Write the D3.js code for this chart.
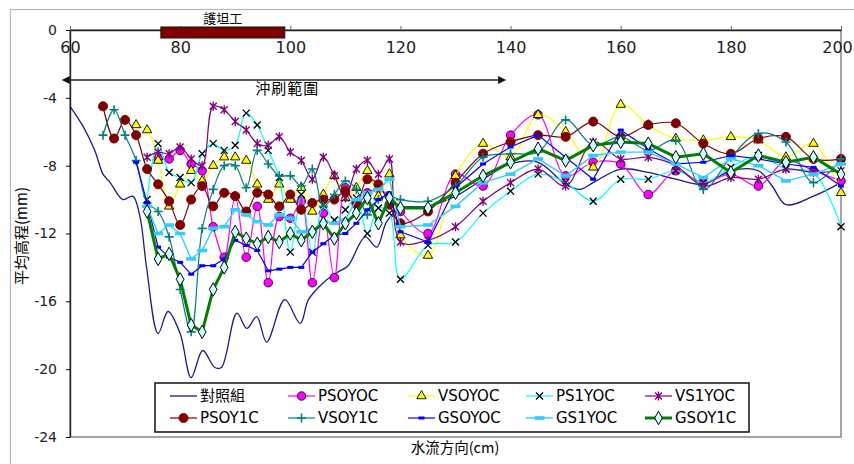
<!DOCTYPE html>
<html>
<head>
<meta charset="utf-8">
<script src="https://cdn.jsdelivr.net/npm/d3@7"></script>
<style>
body { margin: 0; background: #fff; }
svg { display: block; }
text { font-family: "DejaVu Sans", sans-serif; }
</style>
</head>
<body>
<div id="chart"></div>
<script>
// measuring stations (cm), shared by the nine test series
const xs = [66, 68, 70, 72, 74, 76, 78, 80, 82, 84, 86, 88, 90, 92, 94, 96, 98, 100, 102, 104, 106, 108, 110, 112, 114, 116, 118, 120,
    125, 130, 135, 140, 145, 150, 155, 160, 165, 170, 175, 180, 185, 190, 195, 200];

// control profile is denser, own x values
const ctrlX = [60, 62.4, 64.5, 66, 67.3, 69.6, 71.4, 72.7, 73.9, 76, 77.8, 80, 82, 84.1, 86.3, 87.5, 90.3, 92.1, 93.9, 95.7,
    99, 101.8, 103.3, 106, 108.5, 110.5, 113.6, 115.7, 117.5, 120, 125, 130, 135, 140, 145, 150, 152.6, 155, 160, 165,
    170, 175, 180, 185, 187.5, 190, 195, 200];
const ctrlY = [-4.5, -5.7, -7.1, -8.5, -9.0, -10.0, -9.8, -11.0, -14.0, -17.9, -16.6, -17.9, -20.5, -18.9, -19.9, -19.9, -16.7, -17.6, -16.9, -18.4,
    -15.9, -17.3, -15.9, -14.9, -14.3, -13.9, -12.2, -12.8, -11.3, -10.5, -10.4, -9.8, -8.8, -7.9, -7.8, -9.1, -9.4, -9.0, -8.2, -8.4,
    -8.8, -9.1, -8.3, -8.3, -9.2, -10.3, -9.8, -9.0];

const N = null;
const psoy0c = [N, N, N, N, N, -7.6, -7.6, -7.1, -7.9, -8.3, -11.6, -13.4, -9.8, -13.4, -10.4, -14.9, -11.0, -11.1, -10.1, -14.9, -10.8, -14.6, -9.3, -10.3, -9.6, -9.4, -9.8, -10.7,
    -12.0, -8.5, -9.2, -6.2, -5.0, -8.6, -7.8, -7.9, -9.7, -8.3, -9.0, -8.5, -9.2, -7.7, -8.3, -8.9];
const vsoy0c = [N, N, N, -5.6, -5.9, -7.7, -10.4, -9.1, -8.3, -8.9, -8.0, -7.5, -7.5, -7.7, -9.1, -10.0, -9.1, -10.0, -9.3, -10.7, -9.7, -8.6, -9.9, -9.3, -8.3, -9.8, -8.5, -12.1,
    -13.3, -8.6, -6.7, -7.5, -5.0, -6.0, -8.1, -4.4, -5.6, -6.4, -6.5, -6.3, -6.5, -7.5, -6.7, -9.6];
const ps1y0c = [N, N, N, N, -10.0, -6.7, -8.4, -8.7, -9.0, -7.3, -6.7, -7.1, -6.8, -4.9, -5.6, -7.1, -8.7, -13.1, -9.7, -13.1, -10.3, -11.2, -10.6, -9.9, -12.0, -10.5, -10.8, -14.7,
    -12.7, -12.5, -10.8, -9.5, -8.5, -9.0, -10.1, -8.8, -8.8, -8.3, -9.0, -8.1, -7.4, -8.2, -8.4, -11.6];
const vs1y0c = [N, N, N, N, -7.5, -7.2, -7.3, -6.9, -7.6, -8.0, -4.5, -4.7, -5.4, -5.9, -6.7, -6.8, -6.3, -7.2, -7.7, -8.8, -7.5, -8.6, -9.9, -8.2, -7.7, -8.5, -7.6, -12.5,
    -12.4, -11.6, -10.1, -9.0, -8.2, -9.2, -6.6, -7.6, -7.5, -8.0, -9.2, -8.7, -8.8, -8.2, -8.4, -8.3];
const psoy1c = [-4.5, -6.4, -5.3, -6.2, -8.2, -9.1, -10.1, -11.5, -10.0, -9.2, -10.4, -9.6, -9.8, -10.7, -9.6, -9.7, -10.4, -9.7, -10.6, -10.2, -10.0, -10.0, -9.5, -10.2, -8.8, -9.1, -10.3, -11.4,
    -10.7, -9.0, -7.3, -6.6, -6.2, -6.3, -5.4, -6.3, -5.6, -5.5, -6.7, -7.3, -6.4, -6.3, -7.6, -7.6];
const vsoy1c = [-6.2, -4.7, -6.2, -7.7, -10.2, -10.7, -12.2, -15.3, -17.8, -11.7, -9.4, -8.0, -8.0, -9.3, -7.1, -7.9, -8.6, -8.6, -9.2, -8.2, -10.4, -9.7, -8.9, -9.4, -10.9, -10.0, -9.8, -10.0,
    -10.1, -9.2, -7.5, -7.3, -7.2, -5.3, -6.8, -6.3, -7.1, -6.5, -9.4, -7.5, -6.1, -6.6, -9.0, -7.6];
const gsoy0c = [N, N, N, -7.8, -10.2, -12.8, -13.4, -13.7, -14.4, -13.9, -13.9, -13.5, -12.4, -12.7, -13.0, -14.2, -14.1, -14.0, -14.0, -13.1, -12.6, -12.1, -12.0, -11.4, -10.6, -10.0, -9.6, -11.9,
    -12.5, -9.3, -7.9, -6.9, -6.2, -7.5, -8.8, -5.9, -7.0, -7.9, -7.8, -7.4, -7.6, -7.9, -8.1, -9.2];
const gs1y0c = [N, N, N, N, -10.4, -12.0, -11.5, -12.0, -13.5, -13.0, -11.7, -11.6, -10.6, -10.9, -11.3, -11.5, -10.9, -11.1, -11.9, -11.8, -11.3, -11.4, -11.2, -10.0, -9.6, -9.4, -8.8, -11.6,
    -11.5, -10.4, -9.0, -8.5, -7.6, -8.6, -7.4, -7.2, -7.2, -7.9, -8.7, -7.6, -8.0, -8.9, -8.5, -7.9];
const gsoy1c = [N, N, N, N, -10.7, -13.5, -13.2, -14.7, -17.4, -17.8, -15.3, -14.0, -11.9, -12.3, -12.6, -12.2, -12.5, -12.0, -12.4, -11.9, -11.4, -12.3, -11.4, -10.8, -9.9, -11.4, -9.9, -10.5,
    -10.5, -9.6, -8.6, -7.8, -7.0, -7.7, -6.8, -6.6, -6.7, -7.5, -7.3, -8.4, -7.4, -7.8, -7.5, -8.5];

const seriesNames = ['對照組', 'PSOYOC', 'VSOYOC', 'PS1YOC', 'VS1YOC', 'PSOY1C', 'VSOY1C', 'GSOYOC', 'GS1YOC', 'GSOY1C'];
const xTicks = [60, 80, 100, 120, 140, 160, 180, 200];
const yTicks = [0, -4, -8, -12, -16, -20, -24];
const apronRange = [76.5, 99];      // 護坦工
const scourRange = [58.5, 139.2];   // 沖刷範圍

function drawMarker(g, type) {
    if (type === 'circleMag') {
        g.append('circle').attr('r', 4.3).attr('fill', '#ff00ff').attr('stroke', '#000').attr('stroke-width', 0.8);
    } else if (type === 'circleRed') {
        g.append('circle').attr('r', 4.5).attr('fill', '#800000').attr('stroke', '#800000');
    } else if (type === 'tri') {
        g.append('path').attr('d', d3.symbol(d3.symbolTriangle, 38)()).attr('fill', '#ffff00').attr('stroke', '#000').attr('stroke-width', 0.9);
    } else if (type === 'x') {
        g.append('path').attr('d', 'M-3.5,-3.5L3.5,3.5M-3.5,3.5L3.5,-3.5').attr('stroke', '#000').attr('stroke-width', 1.3);
    } else if (type === 'star') {
        g.append('path').attr('d', 'M-3.5,-3.5L3.5,3.5M-3.5,3.5L3.5,-3.5M0,-4.5V4.5').attr('stroke', '#800080').attr('stroke-width', 1.4);
    } else if (type === 'plus') {
        g.append('path').attr('d', 'M-4.5,0H4.5M0,-4.5V4.5').attr('stroke', '#008080').attr('stroke-width', 1.6);
    } else if (type === 'dashBlue') {
        g.append('rect').attr('x', -3).attr('y', -1.5).attr('width', 6).attr('height', 3).attr('fill', '#0000ff');
    } else if (type === 'dashLight') {
        g.append('rect').attr('x', -5).attr('y', -1.8).attr('width', 10).attr('height', 3.6).attr('fill', '#33ccff');
    } else if (type === 'diamond') {
        g.append('path').attr('d', d3.symbol(d3.symbolDiamond, 52)()).attr('fill', '#ccffff').attr('stroke', '#000').attr('stroke-width', 1);
    }
}

function createChart(selector) {
    const width = 854, height = 464;
    const svg = d3.select(selector).append('svg')
        .attr('width', width)
        .attr('height', height);

    const x = d3.scaleLinear().domain([60, 200]).range([70, 841]);
    const y = d3.scaleLinear().domain([0, -24]).range([30, 437]);

    // chart frame
    svg.append('rect').attr('x', 10.5).attr('y', 9.5).attr('width', 900).attr('height', 500)
        .attr('fill', 'none').attr('stroke', '#b8b8b8').attr('stroke-width', 1.2);
    svg.append('rect').attr('x', 70).attr('y', 30).attr('width', 771).attr('height', 407)
        .attr('fill', 'none').attr('stroke', '#909090').attr('stroke-width', 1.6);

    const smooth = d3.curveCatmullRom.alpha(0.5);
    const straight = d3.curveLinear;
    const zip = vals => xs.map((v, i) => ({ x: v, y: vals[i] }));

    const series = [
        { name: seriesNames[0], pts: ctrlX.map((v, i) => ({ x: v, y: ctrlY[i] })), color: '#1a1a8c', w: 1.3, curve: smooth, marker: null },
        { name: seriesNames[1], pts: zip(psoy0c), color: '#ff00ff', w: 1.2, curve: smooth, marker: 'circleMag' },
        { name: seriesNames[2], pts: zip(vsoy0c), color: '#ffff00', w: 1.2, curve: smooth, marker: 'tri' },
        { name: seriesNames[3], pts: zip(ps1y0c), color: '#00ffff', w: 1.2, curve: smooth, marker: 'x' },
        { name: seriesNames[4], pts: zip(vs1y0c), color: '#800080', w: 1.2, curve: smooth, marker: 'star' },
        { name: seriesNames[5], pts: zip(psoy1c), color: '#800000', w: 1.2, curve: smooth, marker: 'circleRed' },
        { name: seriesNames[6], pts: zip(vsoy1c), color: '#008080', w: 1.2, curve: smooth, marker: 'plus' },
        { name: seriesNames[7], pts: zip(gsoy0c), color: '#0000ff', w: 1.2, curve: straight, marker: 'dashBlue' },
        { name: seriesNames[8], pts: zip(gs1y0c), color: '#33ccff', w: 1.4, curve: straight, marker: 'dashLight' },
        { name: seriesNames[9], pts: zip(gsoy1c), color: '#008000', w: 3, curve: straight, marker: 'diamond' }
    ];

    const plot = svg.append('g');
    series.forEach(s => {
        const pts = s.pts.filter(d => d.y !== null);
        const line = d3.line().x(d => x(d.x)).y(d => y(d.y)).curve(s.curve);
        plot.append('path')
            .datum(pts)
            .attr('d', line)
            .attr('fill', 'none')
            .attr('stroke', s.color)
            .attr('stroke-width', s.w)
            .attr('stroke-linejoin', 'round');
        if (s.marker) {
            plot.append('g').selectAll('g')
                .data(pts)
                .enter()
                .append('g')
                .attr('transform', d => `translate(${x(d.x)},${y(d.y)})`)
                .each(function() { drawMarker(d3.select(this), s.marker); });
        }
    });

    // axes
    const xAxis = d3.axisBottom(x).tickValues(xTicks).tickSizeInner(-4).tickSizeOuter(0).tickPadding(12);
    const gx = svg.append('g').attr('transform', `translate(0,${y(0)})`).call(xAxis);
    gx.selectAll('text').style('font-size', '16px').attr('fill', '#222')
        .attr('dx', d => d === 200 ? -4 : 0);
    gx.select('.domain').attr('stroke', '#222').attr('stroke-width', 1.4);
    gx.selectAll('.tick line').attr('stroke', '#666');

    const yAxis = d3.axisLeft(y).tickValues(yTicks).tickSizeInner(4).tickSizeOuter(0).tickPadding(9).tickFormat(d => String(d));
    const gy = svg.append('g').attr('transform', `translate(${x(60)},0)`).call(yAxis);
    gy.selectAll('text').style('font-size', '14px').attr('fill', '#222');
    gy.select('.domain').attr('stroke', '#222').attr('stroke-width', 1.4);

    // 護坦工 bar
    svg.append('rect')
        .attr('x', x(apronRange[0])).attr('y', y(0) - 3)
        .attr('width', x(apronRange[1]) - x(apronRange[0])).attr('height', 11)
        .attr('fill', '#800000').attr('stroke', '#111').attr('stroke-width', 1);
    svg.append('text')
        .attr('x', (x(apronRange[0]) + x(apronRange[1])) / 2).attr('y', 23)
        .style('text-anchor', 'middle')
        .style('font-family', '"Noto Sans CJK TC"')
        .style('font-size', '13px')
        .text('護坦工');

    // 沖刷範圍 arrow
    const ay = 80;
    const ax0 = x(scourRange[0]), ax1 = x(scourRange[1]);
    svg.append('line').attr('x1', ax0 + 4).attr('x2', ax1 - 4).attr('y1', ay).attr('y2', ay)
        .attr('stroke', '#222').attr('stroke-width', 1.3);
    svg.append('path').attr('d', `M${ax0},${ay}l8,-4v8z`).attr('fill', '#111');
    svg.append('path').attr('d', `M${ax1},${ay}l-8,-4v8z`).attr('fill', '#111');
    svg.append('text')
        .attr('x', x(100) - 3).attr('y', 94)
        .style('text-anchor', 'middle')
        .style('font-family', '"Noto Sans CJK TC"')
        .style('font-size', '15px')
        .style('letter-spacing', '1px')
        .text('沖刷範圍');

    // axis titles
    svg.append('text')
        .attr('transform', 'rotate(-90)')
        .attr('x', -236).attr('y', 27)
        .style('text-anchor', 'middle')
        .style('font-family', '"Noto Sans CJK TC"')
        .style('font-size', '15px')
        .text('平均高程(mm)');
    svg.append('text')
        .attr('x', 455).attr('y', 453)
        .style('text-anchor', 'middle')
        .style('font-family', '"Noto Sans CJK TC"')
        .style('font-size', '14.5px')
        .text('水流方向(cm)');

    // legend
    const legend = svg.append('g');
    legend.append('rect').attr('x', 155).attr('y', 383).attr('width', 594).attr('height', 49)
        .attr('fill', '#fff').attr('stroke', '#111').attr('stroke-width', 1.5);
    const colX = [170, 288, 408, 526, 645];
    const rowY = [396, 418];
    series.forEach((s, i) => {
        const lx = colX[i % 5], ly = rowY[Math.floor(i / 5)];
        const item = legend.append('g');
        item.append('line').attr('x1', lx).attr('x2', lx + 27).attr('y1', ly).attr('y2', ly)
            .attr('stroke', s.color).attr('stroke-width', s.w);
        if (s.marker) {
            const m = item.append('g').attr('transform', `translate(${lx + 13.5},${ly})`);
            drawMarker(m, s.marker);
        }
        item.append('text')
            .attr('x', lx + 30).attr('y', ly).attr('dy', '0.36em')
            .style('font-size', '15px')
            .style('font-family', i === 0 ? '"Noto Sans CJK TC"' : '"DejaVu Sans"')
            .text(s.name);
    });

    return svg;
}

createChart('#chart');
</script>
</body>
</html>
